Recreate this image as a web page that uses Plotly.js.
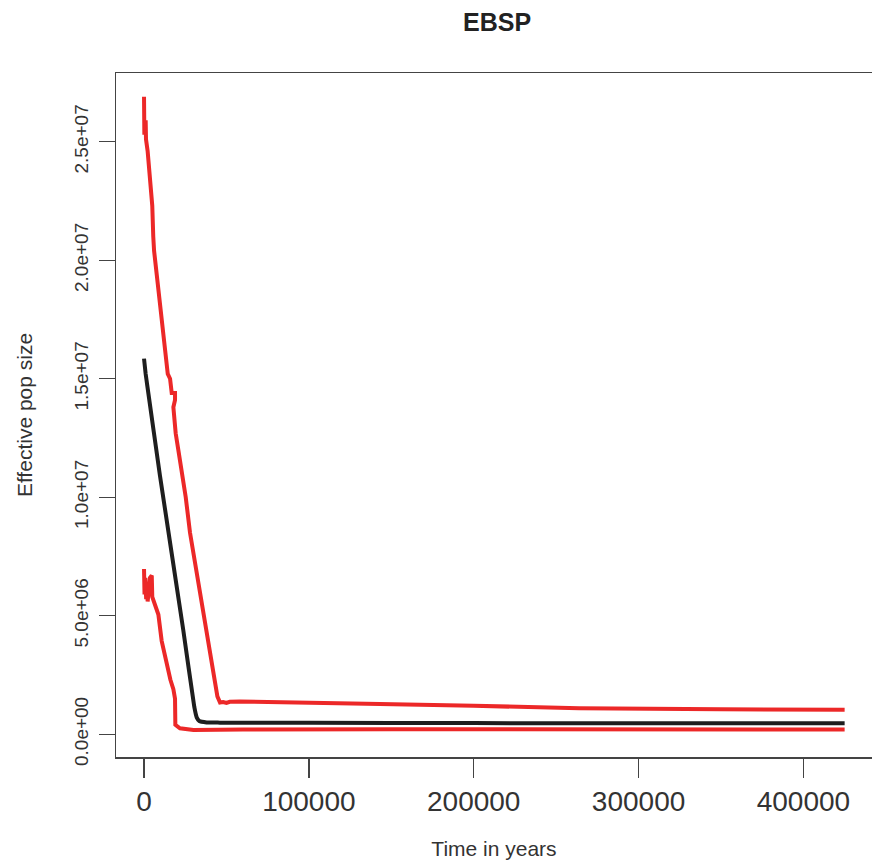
<!DOCTYPE html>
<html>
<head>
<meta charset="utf-8">
<script src="https://cdn.plot.ly/plotly-3.0.1.min.js"></script>
<style>html,body{margin:0;padding:0;background:#fff;}#chart{width:872px;height:861px;}</style>
</head>
<body>
<div id="chart"></div>
<script>
// Upper bound (red)
const upperTime = [0,200,1000,1200,2200,3600,5000,5600,6100,7700,10700,12700,13800,14400,15800,16800,18800,18800,17800,18800,19200,20800,25300,27900,42000,44500,46100,48000,50000,52000,58200,100000,143000,200000,264000,350000,425000];
const upperNe = [26900000,25300000,25900000,25100000,24600000,23300000,22300000,21000000,20400000,19400000,17500000,16200000,15800000,15200000,15000000,14400000,14400000,14100000,13800000,13000000,12700000,12000000,10000000,8500000,2670000,1600000,1340000,1360000,1320000,1370000,1380000,1350000,1280000,1200000,1100000,1050000,1030000];

// Median (black)
const medianTime = [0,1000,2000,9700,23800,30500,32000,33500,38000,46000,100000,200000,300000,425000];
const medianNe = [15850000,15200000,14700000,10900000,4400000,1150000,700000,560000,500000,490000,480000,470000,460000,460000];

// Lower bound (red)
const lowerTime = [0,300,800,1300,1600,2200,3600,4700,5000,6700,8700,10700,13800,14700,16000,17800,18800,19000,21800,30000,60000,150000,300000,425000];
const lowerNe = [6970000,5900000,6600000,5700000,6400000,5600000,6600000,6700000,5800000,5500000,5050000,3940000,2960000,2530000,2300000,1900000,1500000,400000,250000,180000,200000,210000,200000,200000];

const xTickVals = [0,100000,200000,300000,400000];
const xTickText = ["0","100000","200000","300000","400000"];
const yTickVals = [0,5000000,10000000,15000000,20000000,25000000];
const yTickText = ["0.0e+00","5.0e+06","1.0e+07","1.5e+07","2.0e+07","2.5e+07"];

const red = '#ec2828';
const black = '#1e1e1e';
const font = 'Liberation Sans, Arial, Helvetica, sans-serif';

const traces = [
  {x: upperTime, y: upperNe, mode: 'lines', line: {color: red, width: 4}, hoverinfo: 'skip'},
  {x: lowerTime, y: lowerNe, mode: 'lines', line: {color: red, width: 4}, hoverinfo: 'skip'},
  {x: medianTime, y: medianNe, mode: 'lines', line: {color: black, width: 4, shape: 'spline', smoothing: 0.4}, hoverinfo: 'skip'}
];

const layout = {
  width: 872, height: 861,
  margin: {l: 116, r: 0, t: 73, b: 104},
  paper_bgcolor: '#fff', plot_bgcolor: '#fff',
  showlegend: false,
  title: {text: '<b>EBSP</b>', font: {family: font, size: 25, color: '#222'},
          x: 0.57, xref: 'container', xanchor: 'center', y: 0.974, yref: 'container', yanchor: 'middle'},
  xaxis: {
    range: [-17000, 441600], autorange: false,
    tickvals: xTickVals, ticktext: xTickText,
    ticks: 'outside', ticklen: 19, tickwidth: 1.3, tickcolor: '#444',
    showline: true, linecolor: '#444', linewidth: 1.5, mirror: true,
    showgrid: false, zeroline: false,
    tickfont: {family: font, size: 28, color: '#333'},
    ticklabelstandoff: 0,
    title: {text: 'Time in years', font: {family: font, size: 21, color: '#333'}, standoff: 25},
    automargin: false
  },
  yaxis: {
    range: [-960000, 27900000], autorange: false,
    tickvals: yTickVals, ticktext: yTickText, tickangle: -90,
    ticks: 'outside', ticklen: 16, tickwidth: 1.3, tickcolor: '#444',
    showline: true, linecolor: '#444', linewidth: 1.5, mirror: false,
    showgrid: false, zeroline: false,
    tickfont: {family: font, size: 19, color: '#333'},
    ticklabelstandoff: 3,
    title: {text: 'Effective pop size', font: {family: font, size: 21, color: '#333'}, standoff: 32},
    automargin: false
  }
};

Plotly.newPlot('chart', traces, layout, {staticPlot: true, displayModeBar: false});
</script>
</body>
</html>
